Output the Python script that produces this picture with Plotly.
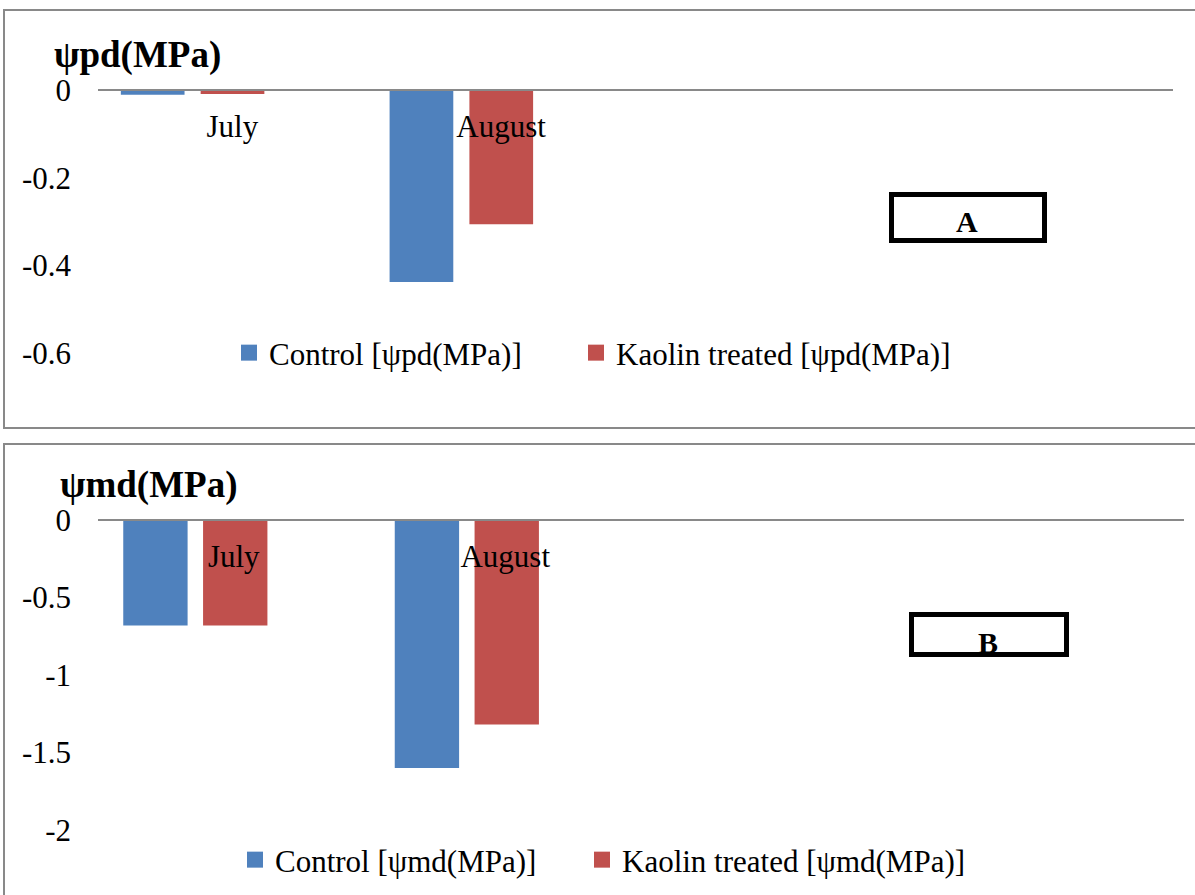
import plotly.graph_objects as go

# ---------------- data ----------------
months = ["July", "August"]
series_names_a = ["Control [ψpd(MPa)]", "Kaolin treated [ψpd(MPa)]"]
series_names_b = ["Control [ψmd(MPa)]", "Kaolin treated [ψmd(MPa)]"]
control_pd = [-0.011, -0.438]
kaolin_pd = [-0.009, -0.306]
control_md = [-0.68, -1.60]
kaolin_md = [-0.68, -1.32]
yticks_a = [0, -0.2, -0.4, -0.6]
ytick_text_a = ["0", "-0.2", "-0.4", "-0.6"]
yticks_b = [0, -0.5, -1, -1.5, -2]
ytick_text_b = ["0", "-0.5", "-1", "-1.5", "-2"]

# ---------------- helpers ----------------
W, H = 1195, 895
def px(x):
    return x / W
def py(y):
    return 1 - y / H

BLUE = "#4F81BD"
RED = "#C0504D"
GRAY = "#898989"
FONT = "Liberation Serif, Times New Roman, serif"
FS = 31

xpos = [0, 1]
fig = go.Figure()

# bars (drawn from the data arrays)
bar_specs = [
    (control_pd, BLUE, -0.415, "x", "y"),
    (kaolin_pd, RED, -0.118, "x", "y"),
    (control_md, BLUE, -0.407, "x2", "y2"),
    (kaolin_md, RED, -0.113, "x2", "y2"),
]
for vals, col, off, xa, ya in bar_specs:
    fig.add_trace(go.Bar(x=xpos, y=vals, marker_color=col, marker_line_width=0,
                         width=0.237, offset=off, xaxis=xa, yaxis=ya, showlegend=False,
                         hoverinfo="x+y"))

# legend entries (square swatches like the original)
legend_specs = [
    (series_names_a[0], BLUE, "x", "y", "legend"),
    (series_names_a[1], RED, "x", "y", "legend2"),
    (series_names_b[0], BLUE, "x2", "y2", "legend3"),
    (series_names_b[1], RED, "x2", "y2", "legend4"),
]
for name, col, xa, ya, lg in legend_specs:
    fig.add_trace(go.Scatter(x=[None], y=[None], mode="markers", name=name,
                             marker=dict(symbol="square", size=16, color=col),
                             xaxis=xa, yaxis=ya, legend=lg, showlegend=True))

axis_font = dict(family=FONT, size=FS, color="black")
leg_common = dict(xanchor="left", yanchor="middle", font=axis_font,
                  bgcolor="rgba(0,0,0,0)", borderwidth=0)

fig.update_layout(
    width=W, height=H,
    margin=dict(l=0, r=0, t=0, b=0, pad=0, autoexpand=False),
    paper_bgcolor="white", plot_bgcolor="white",
    font=axis_font,
    barmode="overlay",
    xaxis=dict(domain=[px(98), px(1173)], range=[-0.5, 3.5], tickvals=xpos, ticktext=months,
               anchor="free", position=py(90), showline=True, linecolor=GRAY, linewidth=2,
               ticks="", showgrid=False, zeroline=False, tickfont=axis_font,
               ticklabelstandoff=9, layer="above traces", fixedrange=True),
    yaxis=dict(domain=[py(353), py(90)], range=[-0.6, 0], tickvals=yticks_a, ticktext=ytick_text_a,
               anchor="x", showline=False, ticks="", showgrid=False, zeroline=False,
               tickfont=axis_font, ticklabelstandoff=26, fixedrange=True),
    xaxis2=dict(domain=[px(98), px(1184)], range=[-0.5, 3.5], tickvals=xpos, ticktext=months,
                anchor="free", position=py(520), showline=True, linecolor=GRAY, linewidth=2,
                ticks="", showgrid=False, zeroline=False, tickfont=axis_font,
                ticklabelstandoff=9, layer="above traces", fixedrange=True),
    yaxis2=dict(domain=[py(830), py(520)], range=[-2, 0], tickvals=yticks_b, ticktext=ytick_text_b,
                anchor="x2", showline=False, ticks="", showgrid=False, zeroline=False,
                tickfont=axis_font, ticklabelstandoff=26, fixedrange=True),
    legend=dict(x=px(229), y=py(353), **leg_common),
    legend2=dict(x=px(576), y=py(353), **leg_common),
    legend3=dict(x=px(235), y=py(860), **leg_common),
    legend4=dict(x=px(582), y=py(860), **leg_common),
    showlegend=True,
)

shapes = [
    # panel borders
    dict(type="rect", xref="paper", yref="paper", x0=px(4), x1=px(1210), y0=py(428), y1=py(10),
         line=dict(color=GRAY, width=2), layer="below"),
    dict(type="rect", xref="paper", yref="paper", x0=px(4), x1=px(1210), y0=py(910), y1=py(444),
         line=dict(color=GRAY, width=2), layer="below"),
    # label boxes
    dict(type="rect", xref="paper", yref="paper", x0=px(891.5), x1=px(1044.5), y0=py(240.5), y1=py(194.5),
         line=dict(color="black", width=5)),
    dict(type="rect", xref="paper", yref="paper", x0=px(911.5), x1=px(1066.5), y0=py(654.5), y1=py(614.5),
         line=dict(color="black", width=5)),
]
fig.update_layout(shapes=shapes)

annotations = [
    dict(text="<b>ψpd(MPa)</b>", xref="paper", yref="paper", x=px(52), y=py(55),
         xanchor="left", yanchor="middle", showarrow=False,
         font=dict(family=FONT, size=37, color="black")),
    dict(text="<b>ψmd(MPa)</b>", xref="paper", yref="paper", x=px(58), y=py(485),
         xanchor="left", yanchor="middle", showarrow=False,
         font=dict(family=FONT, size=37, color="black")),
    dict(text="<b>A</b>", xref="paper", yref="paper", x=px(967), y=py(222),
         xanchor="center", yanchor="middle", showarrow=False,
         font=dict(family=FONT, size=30, color="black")),
    dict(text="<b>B</b>", xref="paper", yref="paper", x=px(988), y=py(642),
         xanchor="center", yanchor="middle", showarrow=False,
         font=dict(family=FONT, size=30, color="black")),
]
fig.update_layout(annotations=annotations)

fig.write_html("out.html", config={"displayModeBar": False, "responsive": False})

# remove default page margins so the figure sits at the window's top-left corner
with open("out.html", "r", encoding="utf-8") as f:
    html = f.read()
html = html.replace("<head>", "<head><style>html,body{margin:0;padding:0;overflow:hidden;}</style>", 1)
with open("out.html", "w", encoding="utf-8") as f:
    f.write(html)
